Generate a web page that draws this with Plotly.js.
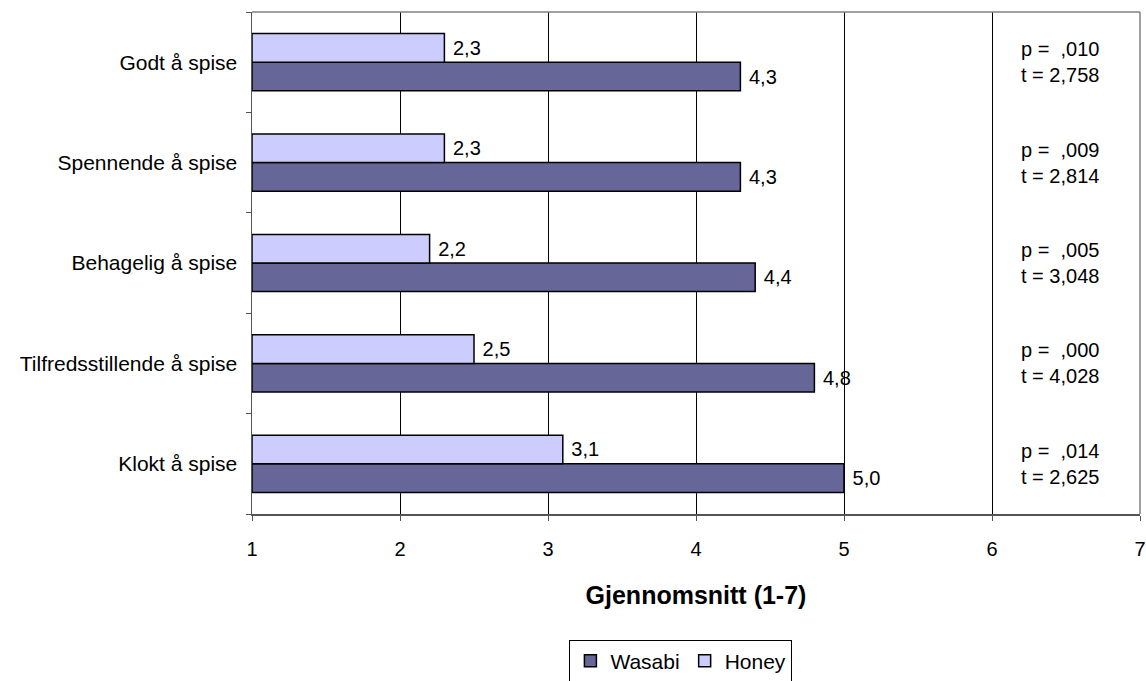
<!DOCTYPE html>
<html>
<head>
<meta charset="utf-8">
<script src="https://cdn.plot.ly/plotly-3.0.1.min.js"></script>
<style>html,body{margin:0;padding:0;background:#fff;}#chart{width:1146px;height:681px;}</style>
</head>
<body>
<div id="chart"></div>
<script>
// Categories listed bottom to top
const categories = ["Klokt å spise", "Tilfredsstillende å spise", "Behagelig å spise", "Spennende å spise", "Godt å spise"];
const wasabi = [5.0, 4.8, 4.4, 4.3, 4.3];
const honey = [3.1, 2.5, 2.2, 2.3, 2.3];
const pValues = [",014", ",000", ",005", ",009", ",010"];
const tValues = ["2,625", "4,028", "3,048", "2,814", "2,758"];
const xTicks = [1, 2, 3, 4, 5, 6, 7];
const scaleMin = 1;

const fmt = v => ' ' + v.toFixed(1).replace('.', ',');
const FONT = "Liberation Sans, Arial, sans-serif";

function barTrace(name, vals, color) {
  return {
    type: 'bar', orientation: 'h', name: name,
    y: categories, x: vals.map(v => v - scaleMin), base: scaleMin,
    marker: {color: color, line: {color: '#000000', width: 1.5}},
    text: vals.map(fmt), textposition: 'outside', cliponaxis: false,
    textfont: {family: FONT, size: 20, color: '#000'}
  };
}
const traces = [barTrace('Wasabi', wasabi, '#666699'), barTrace('Honey', honey, '#CCCCFF')];

const annotations = categories.map((c, i) => ({
  x: 6.18, y: c, xref: 'x', yref: 'y', xanchor: 'left', yanchor: 'middle', align: 'left',
  text: 'p = \u00a0' + pValues[i] + '<br>t = ' + tValues[i],
  showarrow: false, font: {family: FONT, size: 20, color: '#000'}
}));

const layout = {
  width: 1146, height: 681,
  margin: {l: 252, r: 6, t: 12, b: 167, autoexpand: false},
  paper_bgcolor: '#fff', plot_bgcolor: '#fff',
  font: {family: FONT, size: 20, color: '#000'},
  barmode: 'group', bargap: 0.43, bargroupgap: 0,
  showlegend: true,
  legend: {
    orientation: 'h', x: 0.483, xanchor: 'center', y: -0.25, yanchor: 'top',
    bordercolor: '#000', borderwidth: 1, font: {family: FONT, size: 21, color: '#000'},
    traceorder: 'normal', itemwidth: 30
  },
  xaxis: {
    range: [1, 7], tickmode: 'array', tickvals: xTicks, ticktext: xTicks.map(String),
    showgrid: true, gridcolor: '#000', gridwidth: 1,
    showline: true, linecolor: '#555', linewidth: 1.5,
    ticks: 'outside', ticklen: 5, tickcolor: '#555',
    ticklabelstandoff: 11, zeroline: false, automargin: false,
    tickfont: {family: FONT, size: 20, color: '#000'},
    title: {text: '<b>Gjennomsnitt (1-7)</b>', font: {family: FONT, size: 25, color: '#000'}, standoff: 28}
  },
  yaxis: {
    type: 'category', categoryorder: 'array', categoryarray: categories,
    range: [-0.5, 4.5], showgrid: false,
    showline: true, linecolor: '#555', linewidth: 1.5,
    ticks: 'outside', ticklen: 5, tickcolor: '#555', tickson: 'boundaries',
    ticklabelstandoff: 9, zeroline: false, automargin: false,
    tickfont: {family: FONT, size: 21, color: '#000'}
  },
  shapes: [
    {type: 'line', xref: 'paper', yref: 'paper', x0: 0, x1: 1, y0: 1, y1: 1, line: {color: '#808080', width: 1.5}},
    {type: 'line', xref: 'paper', yref: 'paper', x0: 1, x1: 1, y0: 0, y1: 1, line: {color: '#808080', width: 1.5}}
  ],
  annotations: annotations
};

Plotly.newPlot('chart', traces, layout, {displayModeBar: false, staticPlot: true});
</script>
</body>
</html>
